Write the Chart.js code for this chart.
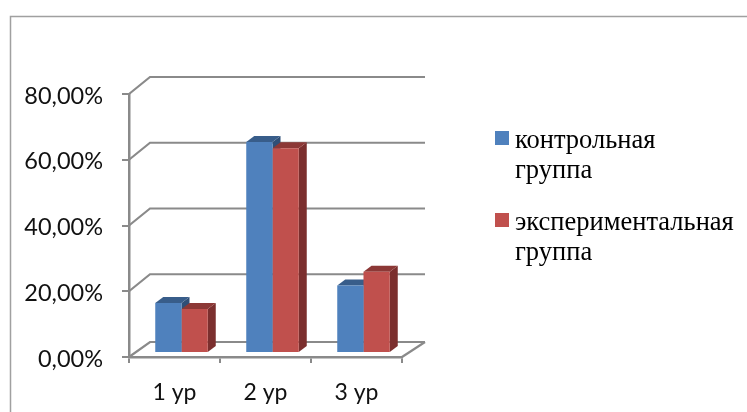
<!DOCTYPE html>
<html>
<head>
<meta charset="utf-8">
<script src="https://cdn.jsdelivr.net/npm/chart.js@4"></script>
<style>
  html, body { margin: 0; padding: 0; background: #fff; overflow: hidden; }
  canvas { display: block; }
</style>
</head>
<body>
<canvas id="chart" width="747" height="412"></canvas>
<script>
const categories = ['1 ур', '2 ур', '3 ур']
const controlValues = [15.2, 64.2, 20.5]
const experimentalValues = [13.4, 62.3, 24.7]
const yTickLabels = ['0,00%', '20,00%', '40,00%', '60,00%', '80,00%']

const AXIS_COLOR = '#8a8a8a'
const DEPTH_WALL = { x: 21, y: -17, floorY: -15 } // how far the back wall sits behind the axes
const DEPTH_BAR = { x: 8, y: -6 }
const BAR_SHIFT = { x: 7, y: -4 } // excel draws the bars slightly inside the floor

const polygon = (ctx, points, color) => {
  ctx.fillStyle = color
  ctx.beginPath()
  points.forEach(([x, y], i) => (i ? ctx.lineTo(x, y) : ctx.moveTo(x, y)))
  ctx.closePath()
  ctx.fill()
}

// frame, back wall and floor behind the bars
const wallPlugin = {
  id: 'wall',
  beforeDatasetsDraw(chart) {
    const { ctx, scales: { x, y } } = chart
    ctx.save()
    ctx.strokeStyle = '#a0a0a0'
    ctx.lineWidth = 1.5
    ctx.beginPath()
    ctx.moveTo(10.5, 412)
    ctx.lineTo(10.5, 16.5)
    ctx.lineTo(747, 16.5)
    ctx.stroke()

    ctx.strokeStyle = AXIS_COLOR
    ctx.lineWidth = 2.2
    y.ticks.forEach(tick => {
      const py = y.getPixelForValue(tick.value)
      const dy = tick.value === 0 ? DEPTH_WALL.floorY : DEPTH_WALL.y
      ctx.beginPath()
      ctx.moveTo(x.left, py)
      ctx.lineTo(x.left + DEPTH_WALL.x, py + dy)
      ctx.lineTo(x.right + DEPTH_WALL.x + 2, py + dy)
      ctx.stroke()
    })
    // right edge of the floor
    const floorY = y.getPixelForValue(0)
    ctx.beginPath()
    ctx.moveTo(x.right, floorY)
    ctx.lineTo(x.right + DEPTH_WALL.x + 2, floorY + DEPTH_WALL.floorY)
    ctx.stroke()
    ctx.restore()

    // top and side faces, first series first so the second overlaps it
    ctx.save()
    ctx.translate(BAR_SHIFT.x, BAR_SHIFT.y)
    chart.data.datasets.forEach((dataset, i) => {
      chart.getDatasetMeta(i).data.forEach(bar => {
        const left = bar.x - bar.width / 2
        const right = bar.x + bar.width / 2
        const dx = DEPTH_BAR.x
        const dy = DEPTH_BAR.y
        polygon(ctx, [[right, bar.y], [right + dx, bar.y + dy], [right + dx, bar.base + dy], [right, bar.base]], dataset.sideColor)
        polygon(ctx, [[left, bar.y], [left + dx, bar.y + dy], [right + dx, bar.y + dy], [right, bar.y]], dataset.topColor)
      })
    })
    ctx.restore()

    // front faces get drawn by chart.js inside this shift
    ctx.save()
    ctx.translate(BAR_SHIFT.x, BAR_SHIFT.y)
  },
  afterDatasetsDraw(chart) {
    chart.ctx.restore()
  },
}

// the stock legend can't wrap with the box on the first line, so draw it here
const legendPlugin = {
  id: 'wrappedLegend',
  afterDraw(chart) {
    const { ctx } = chart
    ctx.save()
    ctx.font = '26.5px "Liberation Serif"'
    ctx.textAlign = 'left'
    ctx.textBaseline = 'alphabetic'
    chart.data.datasets.forEach((dataset, i) => {
      const top = 131 + i * 82
      ctx.fillStyle = dataset.backgroundColor
      ctx.fillRect(495, top, 14, 14)
      ctx.fillStyle = '#000'
      dataset.label.forEach((line, j) => ctx.fillText(line, 515, top + 17 + j * 30))
    })
    ctx.restore()
  },
}

const chartData = {
  labels: categories,
  datasets: [
    {
      label: ['контрольная', 'группа'],
      data: controlValues,
      backgroundColor: '#4f81bd',
      topColor: '#385d8a',
      sideColor: '#2f4f77',
    },
    {
      label: ['экспериментальная', 'группа'],
      data: experimentalValues,
      backgroundColor: '#c0504d',
      topColor: '#8c3836',
      sideColor: '#7b2f2e',
    },
  ],
}

const chartConfig = {
  type: 'bar',
  data: chartData,
  plugins: [wallPlugin, legendPlugin],
  options: {
    responsive: false,
    animation: false,
    events: [],
    layout: { autoPadding: false, padding: { top: 94, right: 345 } },
    datasets: { bar: { categoryPercentage: 0.577, barPercentage: 1 } },
    scales: {
      x: {
        afterFit: scale => { scale.height = 55 },
        border: { color: AXIS_COLOR, width: 2.5 },
        grid: { offset: true, drawOnChartArea: false, color: AXIS_COLOR, lineWidth: 2, tickLength: 6 },
        ticks: {
          padding: 16, color: '#111',
          font: { family: 'Lato', size: 23 },
          maxRotation: 0,
        },
      },
      y: {
        min: 0,
        max: 80,
        afterFit: scale => { scale.width = 129 },
        border: { color: AXIS_COLOR, width: 2.5 },
        grid: { drawOnChartArea: false, color: AXIS_COLOR, lineWidth: 2, tickLength: 7 },
        ticks: {
          stepSize: 20, padding: 19, color: '#111', labelOffset: 2,
          font: { family: 'Lato', size: 23.5 },
          callback: value => yTickLabels[value / 20],
        },
      },
    },
    plugins: {
      tooltip: { enabled: false },
      legend: { display: false },
    },
  },
}

new Chart(document.querySelector('#chart').getContext('2d'), chartConfig)
</script>
</body>
</html>
